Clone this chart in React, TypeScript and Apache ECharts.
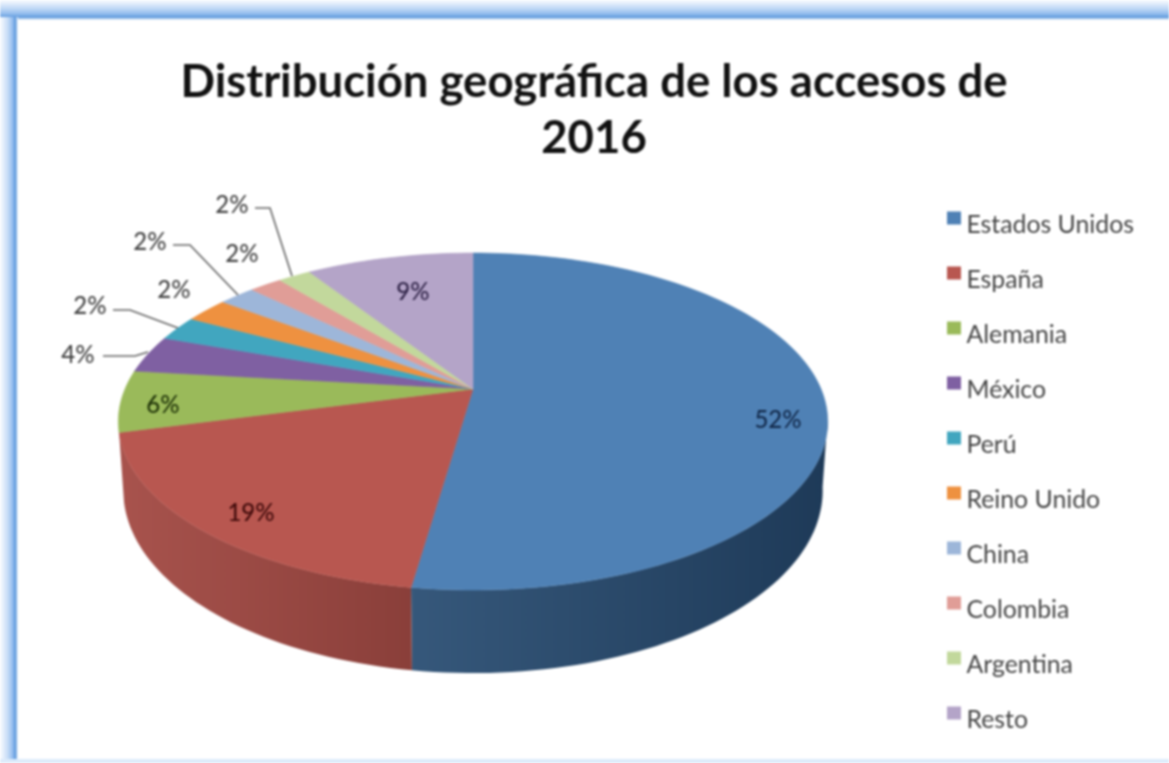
import React, { useEffect, useRef } from "react";
import * as echarts from "echarts";

const TITLE = "Distribución geográfica de los accesos de\n2016";
const categories = ["Estados Unidos", "España", "Alemania", "México", "Perú", "Reino Unido", "China", "Colombia", "Argentina", "Resto"];
const values = [52.3, 18.6, 5.9, 3.6, 2.4, 2.4, 2.0, 1.8, 1.8, 9.2];
const colors = ["#4f81b5", "#b85750", "#9aba5a", "#7f60a2", "#41a6bf", "#ee9140", "#9db6d9", "#e09d97", "#c2d89c", "#b4a4c8"];
const labelColors = ["#12294a", "#3f0a0a", "#1f3308", "#444", "#444", "#444", "#444", "#444", "#444", "#2f2347"];
const wallColors: Record<number, [string, string]> = {
  0: ["#36587b", "#1e3a58"],
  1: ["#a8534d", "#8a3f3a"],
};

// pie geometry (perspective view of a circular disc)
const APEX = [473, 389];
const SCALE_U = 348;
const SCALE_V = 162.2;
const PERSP = 0.193;
const TOP_CY = 421, TOP_RY = 168, TOP_RX = 355;
const BOT_CY = 490, BOT_RY = 182, BOT_RX = 350;
const WALL_FROM = 100, WALL_TO = 262;

const labelPos: [number, number][] = [[778, 418], [251, 511], [163, 403], [78, 353], [90, 304], [174, 288], [150, 240], [242, 252], [232, 203], [413, 290]];
const leaders: Record<number, number[][]> = {
  3: [[103, 356], [135, 356], [148, 352]],
  4: [[113, 310], [130, 310], [178, 328]],
  6: [[173, 245], [190, 245], [238, 295]],
  8: [[255, 208], [270, 208], [292, 276]],
};

// square drawn in the upper part of the symbol box so it sits above the legend text's middle
const LEGEND_ICON = "path://M0 0H14V13H0Z M0 24L0 24";

const project = (deg: number) => {
  const t = (deg * Math.PI) / 180;
  const u = Math.sin(t), v = Math.cos(t);
  const w = 1 + PERSP * v;
  return [APEX[0] + (SCALE_U * u) / w, APEX[1] - (SCALE_V * v) / w];
};
const projectBottom = (deg: number) => {
  const [x, y] = project(deg);
  return [APEX[0] + ((x - APEX[0]) * BOT_RX) / TOP_RX, BOT_CY + ((y - TOP_CY) * BOT_RY) / TOP_RY];
};
const arc = (a: number, b: number, fn: (d: number) => number[]) => {
  const n = Math.max(2, Math.ceil((b - a) / 1.5));
  const pts: number[][] = [];
  for (let i = 0; i <= n; i++) pts.push(fn(a + ((b - a) * i) / n));
  return pts;
};

const total = values.reduce((s, v) => s + v, 0);

const sliceSeries = categories.map((name, i) => {
  const before = values.slice(0, i).reduce((s, v) => s + v, 0);
  const a0 = (before / total) * 360;
  const a1 = ((before + values[i]) / total) * 360;
  return {
    type: "custom",
    name,
    coordinateSystem: "none",
    silent: true,
    itemStyle: { color: colors[i] },
    data: [values[i]],
    renderItem: () => {
      const children: any[] = [];
      const wa = Math.max(a0, WALL_FROM), wb = Math.min(a1, WALL_TO);
      if (wb > wa && wallColors[i]) {
        const top = arc(wa, wb, project);
        const bot = arc(wa, wb, projectBottom).reverse();
        const xs = top.map((p) => p[0]);
        children.push({
          type: "polygon",
          shape: { points: [...top, ...bot] },
          style: {
            fill: {
              type: "linear", global: true,
              x: Math.min(...xs), y: 0, x2: Math.max(...xs), y2: 0,
              colorStops: [
                { offset: 0, color: wallColors[i][0] },
                { offset: 1, color: wallColors[i][1] },
              ],
            },
            stroke: null,
          },
        });
      }
      children.push({
        type: "polygon",
        shape: { points: [APEX, ...arc(a0, a1, project)] },
        style: { fill: colors[i], stroke: colors[i], lineWidth: 0.6 },
      });
      if (leaders[i]) {
        children.push({
          type: "polyline",
          shape: { points: leaders[i] },
          style: { stroke: "#666", lineWidth: 1.6, fill: null },
        });
      }
      children.push({
        type: "text",
        style: {
          text: `${Math.round(values[i])}%`,
          x: labelPos[i][0], y: labelPos[i][1],
          fill: labelColors[i],
          font: "500 24px Lato",
          textAlign: "center", textVerticalAlign: "middle",
        },
      });
      return { type: "group", children };
    },
  };
});

export default function App() {
  const ref = useRef<HTMLDivElement>(null);
  useEffect(() => {
    document.body.style.margin = "0";
    document.body.style.background = "#fff";
    const chart = echarts.init(ref.current!, null, { renderer: "svg" });
    chart.setOption({
      animation: false,
      backgroundColor: "#ffffff",
      title: {
        text: TITLE,
        left: 589, top: 46, textAlign: "center",
        textStyle: { fontFamily: "Lato", fontWeight: 700, fontSize: 45.5, lineHeight: 56, color: "#111" },
      },
      legend: {
        orient: "vertical", left: 942, top: 206, height: 560,
        icon: LEGEND_ICON, itemWidth: 15, itemHeight: 24, itemGap: 30,
        selectedMode: false,
        data: categories,
        textStyle: { fontFamily: "Lato", fontSize: 24.8, color: "#444" },
      },
      graphic: [
        {
          type: "rect", silent: true, z: -1,
          shape: { x: 0, y: 0, width: 1169, height: 20 },
          style: {
            fill: { type: "linear", x: 0, y: 0, x2: 0, y2: 1, colorStops: [
              { offset: 0, color: "#fafcff" }, { offset: 0.45, color: "#bcd6f5" },
              { offset: 0.72, color: "#8db8ec" }, { offset: 0.86, color: "#5c98dc" }, { offset: 1, color: "#ffffff" },
            ] },
          },
        },
        {
          type: "rect", silent: true, z: -1,
          shape: { x: 0, y: 17, width: 18, height: 746 },
          style: {
            fill: { type: "linear", x: 0, y: 0, x2: 1, y2: 0, colorStops: [
              { offset: 0, color: "#fafcff" }, { offset: 0.45, color: "#c4dbf6" },
              { offset: 0.7, color: "#93bcee" }, { offset: 0.86, color: "#5c98dc" }, { offset: 1, color: "#ffffff" },
            ] },
          },
        },
        {
          type: "rect", silent: true, z: -1,
          shape: { x: 0, y: 759, width: 1169, height: 4 },
          style: { fill: "#dcebfb" },
        },
      ],
      series: sliceSeries,
    });
    return () => chart.dispose();
  }, []);
  return (
    <div
      ref={ref}
      style={{ position: "absolute", left: 0, top: 0, width: 1169, height: 763, filter: "blur(0.9px)" }}
    />
  );
}
